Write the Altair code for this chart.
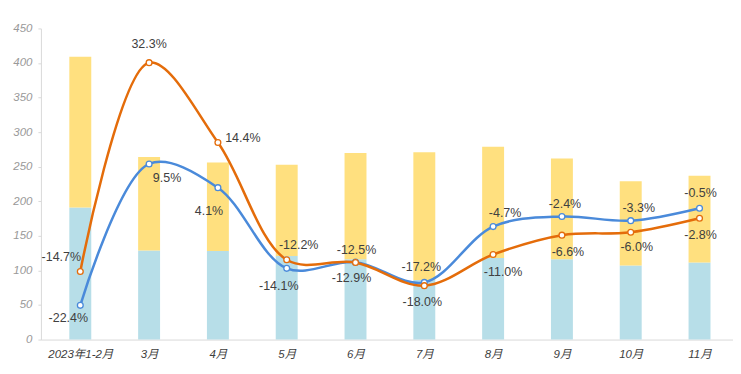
import json
import altair as alt
import pandas as pd

categories = ["2023年1-2月", "3月", "4月", "5月", "6月", "7月", "8月", "9月", "10月", "11月"]
bar_blue = [191, 129, 128, 121, 116, 86, 118, 116, 107, 111.5]
bar_total = [409, 264, 256, 253, 270, 271, 279, 262, 229, 237]
line_orange = [98.5, 400.5, 285, 115.4, 111.5, 78, 123, 151, 155.3, 175.5]
line_blue = [49.5, 254, 219.7, 103, 112, 82.7, 163.4, 178, 172, 190]
label_orange = ["-14.7%", "32.3%", "14.4%", "-12.2%", "-12.5%", "-18.0%", "-11.0%", "-6.6%", "-6.0%", "-2.8%"]
label_blue = ["-22.4%", "9.5%", "4.1%", "-14.1%", "-12.9%", "-17.2%", "-4.7%", "-2.4%", "-3.3%", "-0.5%"]
y_ticks = [0, 50, 100, 150, 200, 250, 300, 350, 400, 450]

# label pixel offsets (styling)
orange_dx = [-19, 0, 25, 12, 1, -2, 10, 6, 6, 1]
orange_dy = [-14, -19, -5, -15, -13, 16, 18, 17, 15, 17]
blue_dx = [-12, 18, -9, -8, -4, -3, 12, 3, 8, 1]
blue_dy = [13, 14, 23, 18, 16, -15, -14, -13, -13, -15]

FONT = "Liberation Sans, Noto Sans CJK SC"
C_ORANGE = "#E46C0A"
C_BLUE = "#4A8ADA"
C_BAR_BLUE = "#B7DEE8"
C_BAR_YELLOW = "#FFE07F"

idx = list(range(len(categories)))
bars = pd.DataFrame({
    "i": idx * 2,
    "part": ["a"] * len(idx) + ["b"] * len(idx),
    "v": bar_blue + [t - b for t, b in zip(bar_total, bar_blue)],
    "o": [0] * len(idx) + [1] * len(idx),
})
lines = pd.DataFrame({
    "i": idx * 2,
    "s": ["blue"] * len(idx) + ["orange"] * len(idx),
    "v": line_blue + line_orange,
    "lab": label_blue + label_orange,
    "dx": blue_dx + orange_dx,
    "dy": blue_dy + orange_dy,
})

label_expr = json.dumps(categories, ensure_ascii=False) + "[datum.value]"

x_scale = alt.Scale(domain=[-0.5, 9.414], nice=False, zero=False)
x_axis = alt.Axis(values=idx, labelExpr=label_expr, title=None, grid=False,
                  ticks=False, domainColor="#d9d9d9", labelFont=FONT,
                  labelFontSize=11.5, labelFontStyle="italic", labelColor="#404040",
                  labelPadding=9, labelOverlap=False)
y_scale = alt.Scale(domain=[0, 450], nice=False)
y_axis = alt.Axis(values=y_ticks, title=None, grid=False, domainColor="#d9d9d9",
                  tickColor="#d9d9d9", tickSize=3, labelFont=FONT, labelFontSize=11.5,
                  labelFontStyle="italic", labelColor="#999999", labelPadding=6,
                  labelOverlap=False)

X = alt.X("i:Q", scale=x_scale, axis=x_axis)
Y = alt.Y("v:Q", scale=y_scale, axis=y_axis)

line_scale = alt.Scale(domain=["blue", "orange"], range=[C_BLUE, C_ORANGE])

bar_layer = alt.Chart(bars).mark_bar(size=22).encode(
    x=X,
    y=alt.Y("v:Q", stack="zero", scale=y_scale, axis=y_axis),
    color=alt.Color("part:N", scale=alt.Scale(domain=["a", "b"], range=[C_BAR_BLUE, C_BAR_YELLOW]), legend=None),
    order=alt.Order("o:Q"),
)

line_layer = alt.Chart(lines).mark_line(interpolate="catmull-rom", strokeWidth=2.5).encode(
    x=X,
    y=Y,
    color=alt.Color("s:N", scale=line_scale, legend=None),
    order=alt.Order("i:Q"),
)

point_layer = alt.Chart(lines).mark_point(shape="circle", filled=False, fill="white",
                                           fillOpacity=1, opacity=1, size=34, strokeWidth=1.3).encode(
    x=X,
    y=Y,
    color=alt.Color("s:N", scale=line_scale, legend=None),
)

text_layer = alt.Chart(lines).mark_text(
    font=FONT, fontSize=12.5, color="#404040", baseline="middle", align="center",
    dx=alt.ExprRef("datum.dx"), dy=alt.ExprRef("datum.dy"),
).encode(
    x=X,
    y=Y,
    text="lab:N",
)

chart = alt.layer(bar_layer, line_layer, point_layer, text_layer).resolve_scale(
    color="independent"
).properties(
    width=694, height=312,
    padding={"left": 4, "top": 14, "right": 0, "bottom": 0},
).configure_view(stroke=None)

chart.save("out.html", embed_options={"renderer": "svg", "actions": False})
